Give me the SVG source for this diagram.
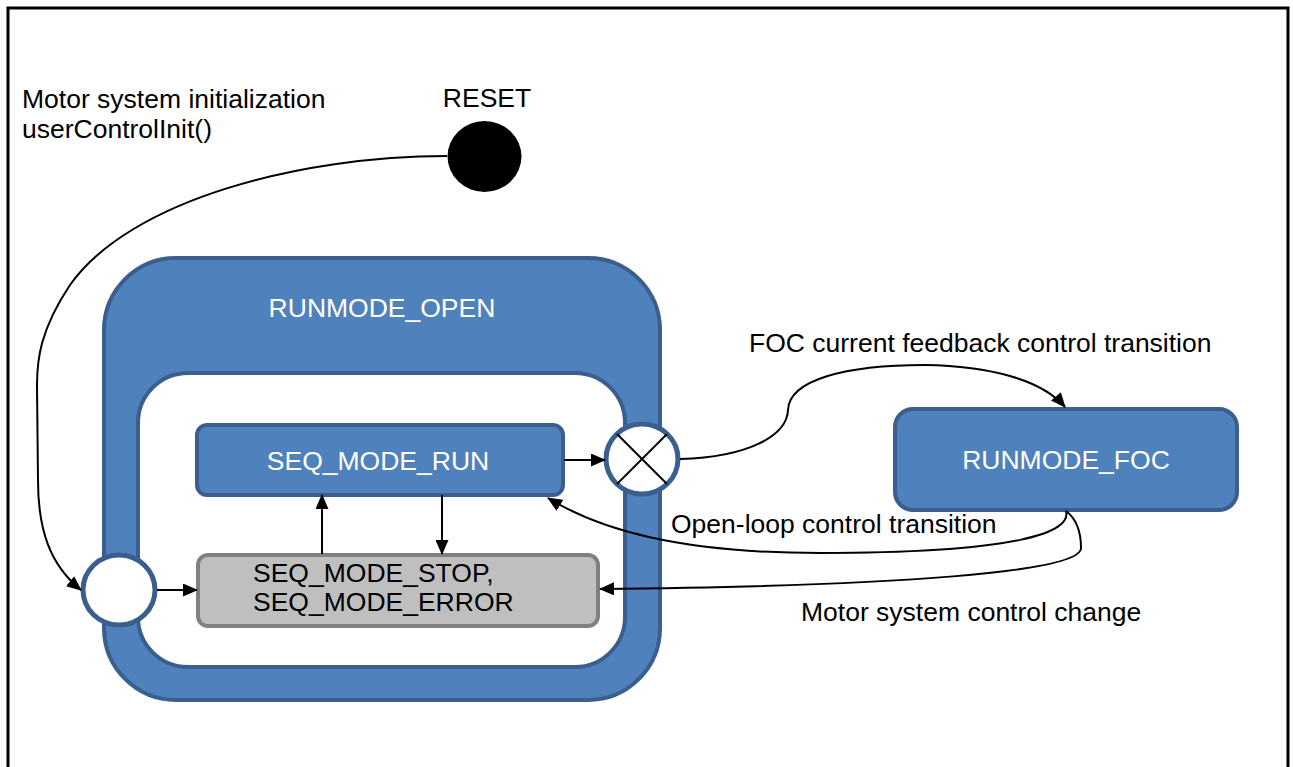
<svg xmlns="http://www.w3.org/2000/svg" width="1293" height="767" viewBox="0 0 1293 767">
<defs>
<marker id="arr" viewBox="0 0 15 13" refX="14" refY="6.5" markerWidth="15" markerHeight="13" markerUnits="userSpaceOnUse" orient="auto">
<path d="M0,0 L15,6.5 L0,13 Z" fill="#000"/>
</marker>
<style>
text{font-family:"Liberation Sans",Arial,sans-serif;font-size:26.5px}
.dark{fill:#000}
.light{fill:#fff}
.blue{fill:#4F81BD;stroke:#3A5F8E;stroke-width:4}
.gray{fill:#BFBFBF;stroke:#808080;stroke-width:4}
.wcirc{fill:#fff;stroke:#3A5F8E;stroke-width:5}
.conn{fill:none;stroke:#000;stroke-width:2}
</style>
</defs>
<rect width="1293" height="767" fill="#fff"/>
<rect x="8" y="8" width="1280" height="800" fill="none" stroke="#000" stroke-width="3"/>

<g id="labels">
<text class="dark" x="22" y="108">Motor system initialization</text>
<text class="dark" x="22" y="138">userControlInit()</text>
<text class="dark" x="749" y="352">FOC current feedback control transition</text>
<text class="dark" x="671" y="533">Open-loop control transition</text>
<text class="dark" x="801" y="621">Motor system control change</text>
</g>

<g id="reset">
<ellipse cx="484.5" cy="156.5" rx="37" ry="35.5" fill="#000"/>
<text class="dark" x="487" y="107" text-anchor="middle">RESET</text>
</g>

<g id="runmode_open">
<rect class="blue" x="104" y="258" width="556" height="442" rx="72" ry="72"/>
<rect x="138" y="373" width="487" height="294" rx="50" ry="50" fill="#fff" stroke="#3A5F8E" stroke-width="4"/>
<text class="light" x="382" y="317" text-anchor="middle">RUNMODE_OPEN</text>
</g>

<g id="seq_mode_run">
<rect class="blue" x="197" y="425" width="366" height="70" rx="10" ry="10"/>
<text class="light" x="378" y="470" text-anchor="middle">SEQ_MODE_RUN</text>
</g>

<g id="seq_mode_stop">
<rect class="gray" x="198" y="555" width="400" height="71" rx="10" ry="10"/>
<text class="dark" x="253" y="582">SEQ_MODE_STOP,</text>
<text class="dark" x="253" y="611">SEQ_MODE_ERROR</text>
</g>

<g id="initial">
<ellipse class="wcirc" cx="119" cy="590" rx="36" ry="35"/>
</g>

<g id="exit_point">
<ellipse class="wcirc" cx="642" cy="459" rx="36" ry="35"/>
<line x1="617" y1="434" x2="667" y2="484" stroke="#000" stroke-width="2"/>
<line x1="667" y1="434" x2="617" y2="484" stroke="#000" stroke-width="2"/>
</g>

<g id="runmode_foc">
<rect class="blue" x="895" y="409" width="342" height="101" rx="18" ry="18"/>
<text class="light" x="1066" y="469" text-anchor="middle">RUNMODE_FOC</text>
</g>

<g id="connectors">
<path class="conn" marker-end="url(#arr)" d="M447,156 C300,156 130,200 70,285 C40,330 37,360 37,385 L38,480 C38,530 50,565 81,590"/>
<path class="conn" marker-end="url(#arr)" d="M564,460 L605,460"/>
<path class="conn" marker-end="url(#arr)" d="M680,459 C750,457 787,435 788,410 C789,380 845,365 925,365 C990,366 1042,380 1065,407"/>
<path class="conn" marker-end="url(#arr)" d="M1066,511 C1072,532 1020,553 820,553 C680,553 600,530 548,498"/>
<path class="conn" marker-end="url(#arr)" d="M1066,511 C1078,520 1081,535 1081,548 C1081,572 900,586 600,589"/>
<path class="conn" marker-end="url(#arr)" d="M157,590 L197,590"/>
<path class="conn" marker-end="url(#arr)" d="M442,495 L442,554"/>
<path class="conn" marker-end="url(#arr)" d="M322,554 L322,495"/>
</g>
</svg>
